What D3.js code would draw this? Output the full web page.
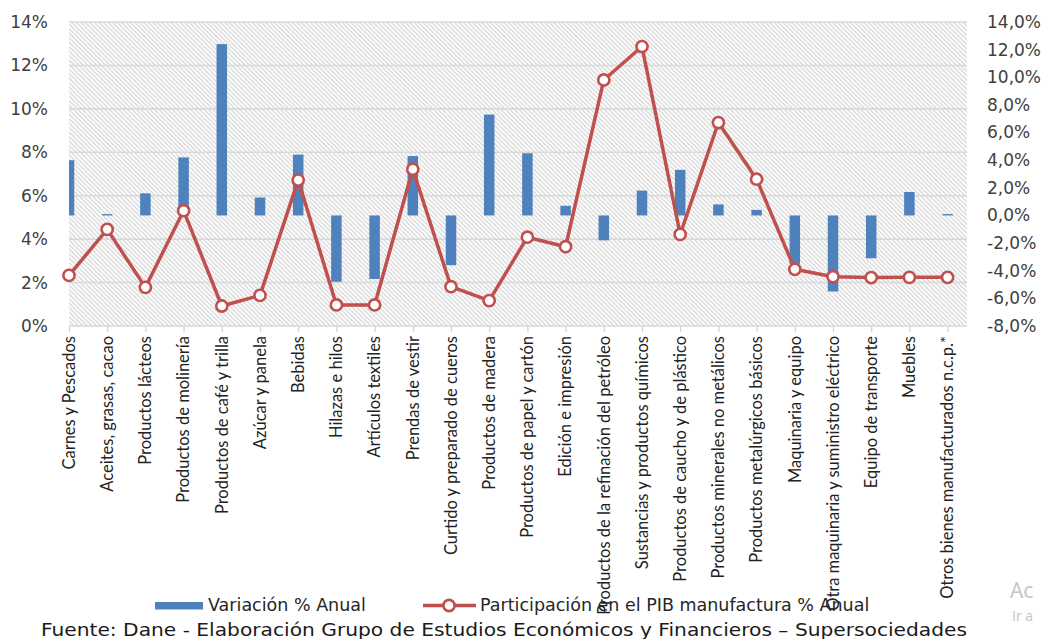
<!DOCTYPE html>
<html>
<head>
<meta charset="utf-8">
<script src="https://cdn.jsdelivr.net/npm/d3@7"></script>
<style>
  html, body { margin: 0; padding: 0; background: #ffffff; }
  svg { display: block; }
</style>
</head>
<body>
<svg id="chart" width="1044" height="639"></svg>
<script>
// Sectores de la industria manufacturera
const categories = [
  "Carnes y Pescados",
  "Aceites, grasas, cacao",
  "Productos lácteos",
  "Productos de molinería",
  "Productos de café y trilla",
  "Azúcar y panela",
  "Bebidas",
  "Hilazas e hilos",
  "Artículos textiles",
  "Prendas de vestir",
  "Curtido y preparado de cueros",
  "Productos de madera",
  "Productos de papel y cartón",
  "Edición e impresión",
  "Productos de la refinación del petróleo",
  "Sustancias y productos químicos",
  "Productos de caucho y de plástico",
  "Productos minerales no metálicos",
  "Productos metalúrgicos básicos",
  "Maquinaria y equipo",
  "Otra maquinaria y suministro eléctrico",
  "Equipo de transporte",
  "Muebles",
  "Otros bienes manufacturados n.c.p.*"
];

// Variación % anual (eje derecho)
const variacion = [4.0, 0.1, 1.6, 4.2, 12.4, 1.3, 4.4, -4.8, -4.6, 4.3, -3.6, 7.3,
                   4.5, 0.7, -1.8, 1.8, 3.3, 0.8, 0.4, -3.5, -5.5, -3.1, 1.7, 0.1];

// Participación en el PIB manufacturero % (eje izquierdo)
const participacion = [2.33, 4.45, 1.78, 5.31, 0.92, 1.41, 6.72, 0.97, 0.97, 7.22, 1.81, 1.17,
                       4.09, 3.65, 11.33, 12.87, 4.22, 9.37, 6.76, 2.61, 2.27, 2.23, 2.24, 2.24];

const leftTicks = [0, 2, 4, 6, 8, 10, 12, 14];
const rightTicks = [-8, -6, -4, -2, 0, 2, 4, 6, 8, 10, 12, 14];

const seriesNames = ["Variación % Anual", "Participación en el PIB manufactura % Anual"];
const sourceNote = "Fuente: Dane - Elaboración Grupo de Estudios Económicos y Financieros – Supersociedades";

const svg = d3.select("#chart");
const plot = { left: 69, right: 967, top: 22, bottom: 326 };

const blue = "#4F81BD", red = "#C0504D";
const axisFont = "'DejaVu Sans', Verdana, sans-serif";

const x = d3.scalePoint().domain(categories).range([plot.left, 947.6]);
const yL = d3.scaleLinear().domain([0, 14]).range([plot.bottom, plot.top]);
const yR = d3.scaleLinear().domain([-8, 14]).range([plot.bottom, plot.top]);

const defs = svg.append("defs");
const pat = defs.append("pattern")
  .attr("id", "hatch").attr("patternUnits", "userSpaceOnUse")
  .attr("width", 4.5).attr("height", 4.5);
pat.append("rect").attr("width", 4.5).attr("height", 4.5).attr("fill", "#ffffff");
pat.append("path")
  .attr("d", "M-1,-1 L5.5,5.5 M-1,3.5 L1,5.5 M3.5,-1 L5.5,1")
  .attr("stroke", "#d3d3d3").attr("stroke-width", 1.2);

defs.append("clipPath").attr("id", "plotclip")
  .append("rect")
  .attr("x", plot.left).attr("y", plot.top - 2)
  .attr("width", plot.right - plot.left).attr("height", plot.bottom - plot.top + 4);

// Plot background
svg.append("rect")
  .attr("x", plot.left).attr("y", plot.top)
  .attr("width", plot.right - plot.left).attr("height", plot.bottom - plot.top)
  .attr("fill", "url(#hatch)");

// Horizontal gridlines
svg.append("g").selectAll("line").data(leftTicks).join("line")
  .attr("x1", plot.left).attr("x2", plot.right)
  .attr("y1", d => yL(d)).attr("y2", d => yL(d))
  .attr("stroke", "#d9d9d9").attr("stroke-width", 1.6);

// Category axis with tick marks
const xAxis = svg.append("g")
  .attr("transform", `translate(0,${plot.bottom})`)
  .call(d3.axisBottom(x).tickSize(6).tickSizeOuter(0).tickFormat(""));
xAxis.select(".domain").remove();
xAxis.selectAll(".tick line").attr("stroke", "#d0d0d0").attr("stroke-width", 1.2);

// Category labels, vertical
svg.append("g").selectAll("text").data(categories).join("text")
  .attr("transform", d => `translate(${x(d)},336) rotate(-90)`)
  .attr("text-anchor", "end")
  .attr("dy", "0.35em")
  .attr("font-family", "'Liberation Sans Narrow', 'Arial Narrow', Lato, sans-serif")
  .attr("font-size", 16.5)
  .attr("fill", "#222222")
  .text(d => d);

// Left axis
const leftAxis = svg.append("g")
  .attr("transform", "translate(48,0)")
  .call(d3.axisLeft(yL).tickValues(leftTicks).tickSize(0).tickPadding(0)
    .tickFormat(d => d + "%"));
leftAxis.select(".domain").remove();
leftAxis.selectAll("text")
  .attr("font-family", axisFont).attr("font-size", 17).attr("fill", "#404040");

// Right axis
const rightAxis = svg.append("g")
  .attr("transform", "translate(987,0)")
  .call(d3.axisRight(yR).tickValues(rightTicks).tickSize(0).tickPadding(0)
    .tickFormat(d => d3.format(".1f")(d).replace(".", ",").replace("−", "-") + "%"));
rightAxis.select(".domain").remove();
rightAxis.selectAll("text")
  .attr("font-family", axisFont).attr("font-size", 17).attr("fill", "#404040");

// Bars: variación anual on the right axis
const barW = 10.5;
svg.append("g").attr("clip-path", "url(#plotclip)")
  .selectAll("rect").data(categories).join("rect")
  .attr("x", d => x(d) - barW / 2)
  .attr("width", barW)
  .attr("y", (d, i) => yR(Math.max(0, variacion[i])))
  .attr("height", (d, i) => Math.abs(yR(variacion[i]) - yR(0)))
  .attr("fill", blue);

// Line: participación on the left axis
const line = d3.line()
  .x((d, i) => x(categories[i]))
  .y(d => yL(d));
svg.append("path")
  .datum(participacion)
  .attr("d", line)
  .attr("fill", "none")
  .attr("stroke", red).attr("stroke-width", 3.5)
  .attr("stroke-linejoin", "round");
svg.append("g").selectAll("circle").data(participacion).join("circle")
  .attr("cx", (d, i) => x(categories[i]))
  .attr("cy", d => yL(d))
  .attr("r", 5.6)
  .attr("fill", "#ffffff").attr("stroke", red).attr("stroke-width", 2.6);

// Legend
const legend = svg.append("g").attr("font-family", axisFont).attr("font-size", 17.5).attr("fill", "#262626");
legend.append("rect").attr("x", 155).attr("y", 602).attr("width", 48).attr("height", 7.5).attr("fill", blue);
legend.append("text").attr("x", 208).attr("y", 611).text(seriesNames[0]);
legend.append("line").attr("x1", 423).attr("x2", 476).attr("y1", 605.5).attr("y2", 605.5)
  .attr("stroke", red).attr("stroke-width", 3.5);
legend.append("circle").attr("cx", 449).attr("cy", 605.5).attr("r", 5.6)
  .attr("fill", "#ffffff").attr("stroke", red).attr("stroke-width", 2.6);
legend.append("text").attr("x", 480).attr("y", 611).text(seriesNames[1]);

// Source note
svg.append("text")
  .attr("x", 41).attr("y", 636)
  .attr("font-family", axisFont).attr("font-size", 18).attr("fill", "#1a1a1a")
  .attr("textLength", 926).attr("lengthAdjust", "spacingAndGlyphs")
  .text(sourceNote);

// System notice at the lower right corner
svg.append("text").attr("x", 1010).attr("y", 598)
  .attr("font-family", "'Open Sans', sans-serif").attr("font-size", 21).attr("fill", "#c4c4c4")
  .text("Ac");
svg.append("text").attr("x", 1012).attr("y", 621)
  .attr("font-family", "'Open Sans', sans-serif").attr("font-size", 14).attr("fill", "#c4c4c4")
  .text("Ir a");
</script>
</body>
</html>
